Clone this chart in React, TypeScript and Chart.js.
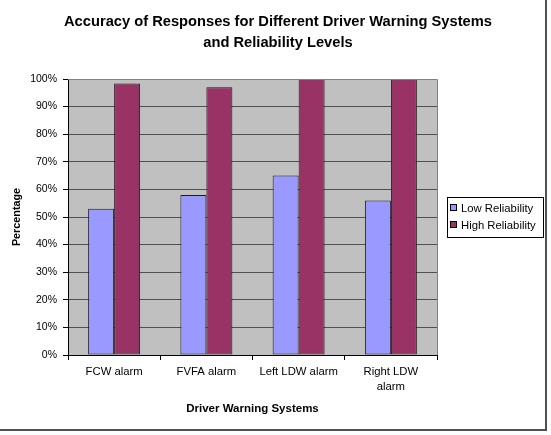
import React, { useEffect, useRef } from "react";
import { Chart, registerables } from "chart.js";

Chart.register(...registerables);

const categories: (string | string[])[] = ["FCW alarm", "FVFA alarm", "Left LDW alarm", ["Right LDW", "alarm"]];
const lowReliability = [53, 58, 65, 56];
const highReliability = [98.4, 97, 100, 100];
const seriesNames = ["Low Reliability", "High Reliability"];
const titleLines = ["Accuracy of Responses for Different Driver Warning Systems", "and Reliability Levels"];
const yTitle = "Percentage";
const xTitle = "Driver Warning Systems";

const FONT = "'Liberation Sans', Arial, sans-serif";

const plotBgPlugin = {
  id: "plotBg",
  beforeDraw(chart: any) {
    const { ctx, chartArea } = chart;
    ctx.save();
    ctx.fillStyle = "#C0C0C0";
    ctx.fillRect(chartArea.left, chartArea.top, chartArea.right - chartArea.left, chartArea.bottom - chartArea.top);
    ctx.restore();
  },
  afterDraw(chart: any) {
    const { ctx, chartArea } = chart;
    ctx.save();
    // title
    ctx.fillStyle = "#000";
    ctx.font = `bold 14.7px ${FONT}`;
    ctx.textAlign = "center";
    ctx.textBaseline = "middle";
    titleLines.forEach((line, i) => ctx.fillText(line, 278, 22 + i * 20.5));
    // plot area border (top/right)
    ctx.strokeStyle = "#808080";
    ctx.lineWidth = 1;
    ctx.beginPath();
    ctx.moveTo(chartArea.left, Math.round(chartArea.top) + 0.5);
    ctx.lineTo(Math.round(chartArea.right) + 0.5, Math.round(chartArea.top) + 0.5);
    ctx.lineTo(Math.round(chartArea.right) + 0.5, chartArea.bottom);
    ctx.stroke();
    // outer frame (right, bottom)
    ctx.strokeStyle = "#505050";
    ctx.lineWidth = 2;
    ctx.beginPath();
    ctx.moveTo(546, 0);
    ctx.lineTo(546, 430);
    ctx.lineTo(0, 430);
    ctx.stroke();
    // legend
    const lx = 447.5, ly = 197.5, lw = 96, lh = 40;
    ctx.fillStyle = "#FFFFFF";
    ctx.fillRect(lx, ly, lw, lh);
    ctx.strokeStyle = "#000000";
    ctx.lineWidth = 1;
    ctx.strokeRect(lx, ly, lw, lh);
    ctx.font = `11.3px ${FONT}`;
    ctx.textBaseline = "middle";
    ctx.textAlign = "left";
    chart.data.datasets.forEach((ds: any, i: number) => {
      const cy = 208 + i * 17;
      ctx.fillStyle = ds.backgroundColor;
      ctx.fillRect(450.5, cy - 3.5, 6, 6);
      ctx.strokeStyle = "#000";
      ctx.strokeRect(450.5, cy - 3.5, 6, 6);
      ctx.fillStyle = "#000";
      ctx.fillText(ds.label, 461, cy + 0.5);
    });
    ctx.restore();
  },
};

export default function App() {
  const ref = useRef<HTMLCanvasElement>(null);
  useEffect(() => {
    if (!ref.current) return;
    const chart = new Chart(ref.current, {
      type: "bar",
      data: {
        labels: categories as any,
        datasets: [
          {
            label: seriesNames[0],
            data: lowReliability,
            backgroundColor: "#9999FF",
            borderColor: "#1a1a1a",
            borderWidth: 1,
            borderSkipped: false,
            categoryPercentage: 0.5636,
            barPercentage: 1,
          },
          {
            label: seriesNames[1],
            data: highReliability,
            backgroundColor: "#993366",
            borderColor: "#1a1a1a",
            borderWidth: 1,
            borderSkipped: false,
            categoryPercentage: 0.5636,
            barPercentage: 1,
          },
        ],
      },
      options: {
        responsive: false,
        animation: false,
        devicePixelRatio: 1,
        layout: { padding: { left: 0, right: 114, top: 79, bottom: 0 } },
        plugins: {
          legend: { display: false },
          tooltip: { enabled: false },
          title: { display: false },
        },
        scales: {
          x: {
            grid: {
              display: true,
              drawOnChartArea: false,
              drawTicks: true,
              tickLength: 5,
              color: "#000",
              offset: true,
            },
            border: { display: true, color: "#000", width: 1 },
            ticks: {
              color: "#000",
              font: { family: FONT, size: 11.3, lineHeight: 1.35 },
              padding: 4,
              maxRotation: 0,
              autoSkip: false,
            },
            title: {
              display: true,
              text: xTitle,
              color: "#000",
              font: { family: FONT, size: 11.5, weight: "bold", lineHeight: 1.2 },
              padding: { top: 0, bottom: 19 },
            },
            afterFit(scale: any) {
              scale.height = 80;
            },
          },
          y: {
            min: 0,
            max: 100,
            grid: {
              color: "#505050",
              tickLength: 5,
              drawTicks: true,
              tickColor: "#000",
            },
            border: { display: true, color: "#000", width: 1 },
            ticks: {
              stepSize: 10,
              color: "#000",
              font: { family: FONT, size: 10.5 },
              padding: 6,
              callback: (v: any) => `${v}%`,
            },
            title: {
              display: true,
              text: yTitle,
              color: "#000",
              font: { family: FONT, size: 10.8, weight: "bold", lineHeight: 1.2 },
              padding: { top: 11, bottom: 0 },
            },
            afterFit(scale: any) {
              scale.width = 68;
            },
          },
        },
      },
      plugins: [plotBgPlugin],
    });
    return () => chart.destroy();
  }, []);
  return (
    <div style={{ position: "fixed", left: 0, top: 0, width: 551, height: 435, background: "#fff" }}>
      <canvas ref={ref} width={551} height={435} style={{ width: 551, height: 435, display: "block" }} />
    </div>
  );
}
